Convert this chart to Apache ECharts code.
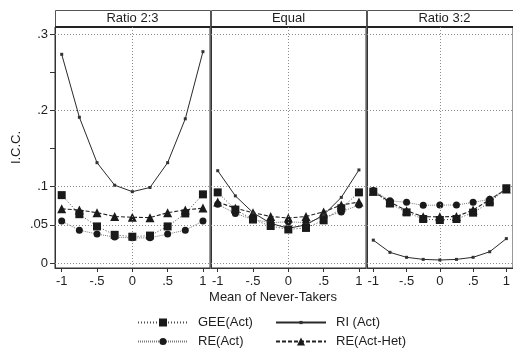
<!DOCTYPE html>
<html>
<head>
<meta charset="utf-8">
<script src="https://cdn.jsdelivr.net/npm/echarts@6/dist/echarts.min.js"></script>
<style>
html,body{margin:0;padding:0;background:#fff;}
#chart{width:513px;height:348px;}
</style>
</head>
<body>
<div id="chart"></div>
<script>
// ---- Data ----
const xVals = [-1, -0.75, -0.5, -0.25, 0, 0.25, 0.5, 0.75, 1];
const panelTitles = ['Ratio 2:3', 'Equal', 'Ratio 3:2'];
const seriesNames = ['GEE(Act)', 'RI (Act)', 'RE(Act)', 'RE(Act-Het)'];

// Ratio 2:3
const gee1 = [0.089, 0.064, 0.048, 0.037, 0.0345, 0.036, 0.048, 0.065, 0.090];
const ri1  = [0.2735, 0.191, 0.1315, 0.102, 0.0935, 0.099, 0.1315, 0.189, 0.277];
const re1  = [0.055, 0.043, 0.038, 0.034, 0.033, 0.033, 0.038, 0.043, 0.055];
const het1 = [0.071, 0.0695, 0.066, 0.061, 0.060, 0.0595, 0.066, 0.0695, 0.072];
// Equal
const gee2 = [0.0926, 0.070, 0.057, 0.0485, 0.044, 0.046, 0.056, 0.0717, 0.0926];
const ri2  = [0.121, 0.088, 0.066, 0.052, 0.0455, 0.050, 0.063, 0.086, 0.122];
const re2  = [0.077, 0.065, 0.057, 0.053, 0.054, 0.053, 0.060, 0.067, 0.076];
const het2 = [0.080, 0.0717, 0.066, 0.061, 0.059, 0.061, 0.067, 0.076, 0.080];
// Ratio 3:2
const gee3 = [0.0935, 0.078, 0.0664, 0.0577, 0.0564, 0.0577, 0.066, 0.0795, 0.098];
const ri3  = [0.030, 0.014, 0.0075, 0.0048, 0.004, 0.0048, 0.0075, 0.0148, 0.032];
const re3  = [0.095, 0.0817, 0.0795, 0.0756, 0.076, 0.076, 0.0795, 0.0835, 0.097];
const het3 = [0.094, 0.080, 0.0686, 0.0607, 0.0605, 0.061, 0.0695, 0.083, 0.097];

const yTickValues  = [0, 0.05, 0.1, 0.15, 0.2, 0.25, 0.3];
const yLabelValues = [0, 0.05, 0.1, 0.2, 0.3];
const yGridValues  = [0, 0.05, 0.1, 0.2, 0.3];
const xTickValues  = [-1, -0.5, 0, 0.5, 1];

const panels = [
  {gee: gee1, ri: ri1, re: re1, het: het1},
  {gee: gee2, ri: ri2, re: re2, het: het2},
  {gee: gee3, ri: ri3, re: re3, het: het3}
];

// ---- Layout / style ----
const FONT = 'Liberation Sans, Arial, sans-serif';
const TXT = '#1e1e1e';
const gridLefts = [55, 211, 367];
const GRID_W = 155, GRID_TOP = 27, GRID_H = 241;
const X_MIN = -1.095, X_MAX = 1.1;
const Y_MIN = -0.0065, Y_MAX = 0.3093;

function stripZero(v) {
  if (v === 0) return '0';
  const s = String(Math.abs(v)).replace(/^0/, '');
  return (v < 0 ? '-' : '') + s;
}

const styles = {
  'GEE(Act)':    {symbol: 'rect', size: 8, color: '#1a1a1a', line: {color: '#4a4a4a', width: 1, type: [1, 2]}, z: 4},
  'RI (Act)':    {symbol: 'rect', size: 3, color: '#333', line: {color: '#2a2a2a', width: 1, type: 'solid'}, z: 3},
  'RE(Act)':     {symbol: 'circle', size: 7, color: '#1a1a1a', line: {color: '#7a7a7a', width: 1, type: [1, 1]}, z: 2},
  'RE(Act-Het)': {symbol: 'triangle', size: 9, color: '#1a1a1a', line: {color: '#222', width: 1.1, type: [4, 2]}, z: 1}
};

const grids = [], xAxes = [], yAxes = [], series = [], graphics = [];

panels.forEach((p, i) => {
  grids.push({left: gridLefts[i], top: GRID_TOP, width: GRID_W, height: GRID_H,
    show: true, borderColor: '#333', borderWidth: 1});
  xAxes.push({
    type: 'value', gridIndex: i, min: X_MIN, max: X_MAX, position: 'bottom',
    axisLine: {show: true, onZero: false, lineStyle: {color: '#333', width: 1}},
    axisTick: {show: true, length: 4, lineStyle: {color: '#333'}, customValues: xTickValues},
    axisLabel: {show: true, margin: 7, fontSize: 13, fontFamily: FONT, color: TXT,
      customValues: xTickValues, formatter: stripZero, showMinLabel: true, showMaxLabel: true},
    splitLine: {show: false}
  });
  yAxes.push({
    type: 'value', gridIndex: i, min: Y_MIN, max: Y_MAX, position: 'left',
    name: i === 0 ? 'I.C.C.' : '', nameLocation: 'middle', nameGap: 32,
    nameTextStyle: {fontSize: 13, fontFamily: FONT, color: TXT},
    axisLine: {show: true, onZero: false, lineStyle: {color: '#333', width: 1}},
    axisTick: {show: i === 0, length: 5, lineStyle: {color: '#333'}, customValues: yTickValues},
    axisLabel: {show: i === 0, margin: 7, fontSize: 13, fontFamily: FONT, color: TXT,
      customValues: yLabelValues, formatter: stripZero},
    splitLine: {show: false}
  });

  const keys = {'GEE(Act)': p.gee, 'RI (Act)': p.ri, 'RE(Act)': p.re, 'RE(Act-Het)': p.het};
  seriesNames.forEach((name, k) => {
    const st = styles[name];
    const s = {
      name: name, type: 'line', xAxisIndex: i, yAxisIndex: i,
      data: xVals.map((x, j) => [x, keys[name][j]]),
      symbol: st.symbol, symbolSize: st.size, showSymbol: true,
      itemStyle: {color: st.color}, lineStyle: st.line, z: st.z + 2,
      animation: false, silent: true
    };
    if (k === 0) {
      s.markLine = {
        silent: true, symbol: 'none', label: {show: false}, animation: false,
        lineStyle: {color: '#8c8c8c', width: 1, type: [1, 2]},
        emphasis: {disabled: true},
        data: [{xAxis: 0}].concat(yGridValues.map(v => ({yAxis: v})))
      };
    }
    series.push(s);
  });

  // strip header
  graphics.push({type: 'rect', left: gridLefts[i], top: 10, silent: true,
    shape: {width: GRID_W, height: 17}, style: {fill: '#fff', stroke: '#555', lineWidth: 1}});
  graphics.push({type: 'line', silent: true,
    shape: {x1: gridLefts[i], y1: 27, x2: gridLefts[i] + GRID_W, y2: 27},
    style: {stroke: '#222', lineWidth: 2}});
  graphics.push({type: 'text', silent: true, x: gridLefts[i] + GRID_W / 2, y: 18.5,
    style: {text: panelTitles[i], fontSize: 13, fontFamily: FONT, fill: TXT, align: 'center', verticalAlign: 'middle'}});
});

graphics.push({type: 'text', silent: true, x: 273, y: 297,
  style: {text: 'Mean of Never-Takers', fontSize: 13, fontFamily: FONT, fill: TXT, align: 'center', verticalAlign: 'middle'}});

const legendCommon = {
  orient: 'horizontal', itemWidth: 50, padding: 0,
  textStyle: {fontSize: 13, fontFamily: FONT, color: TXT, padding: [0, 0, 0, 5]},
  selectedMode: false
};
const legendSpots = [
  {name: 'GEE(Act)', left: 137, rowY: 323, h: 10},
  {name: 'RE(Act)', left: 137, rowY: 342, h: 9},
  {name: 'RI (Act)', left: 275, rowY: 323, h: 4},
  {name: 'RE(Act-Het)', left: 275, rowY: 342, h: 10}
];

const option = {
  backgroundColor: '#fff',
  animation: false,
  grid: grids, xAxis: xAxes, yAxis: yAxes, series: series,
  legend: legendSpots.map(l => Object.assign({}, legendCommon,
    {left: l.left, top: l.rowY - 7, itemHeight: l.h, data: [l.name]})),
  graphic: graphics
};

const chart = echarts.init(document.getElementById('chart'), null, {renderer: 'canvas'});
chart.setOption(option);
</script>
</body>
</html>
